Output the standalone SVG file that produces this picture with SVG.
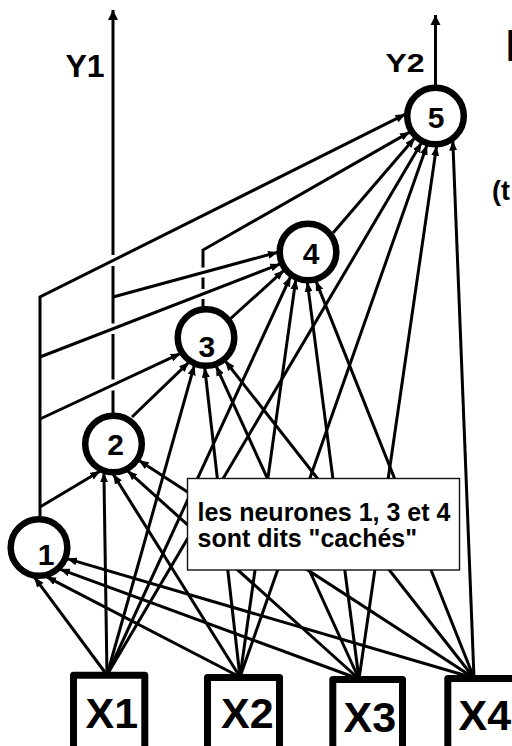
<svg xmlns="http://www.w3.org/2000/svg" width="512" height="746" viewBox="0 0 512 746">
  <style>
    .t { font-family: "Liberation Sans", Arial, sans-serif; font-weight: bold; fill: #000; }
    .e { fill: none; stroke: #000; stroke-width: 3; marker-end: url(#arr); }
    .s { fill: none; stroke: #000; stroke-width: 3; }
    .node { fill: #fff; stroke: #000; stroke-width: 6.5; }
    .box { fill: #fff; stroke: #000; stroke-width: 7; stroke-linejoin: round; }
  </style>
  <defs>
    <marker id="arr" viewBox="0 0 10 8" markerWidth="10" markerHeight="8" refX="10" refY="4" orient="auto" markerUnits="userSpaceOnUse">
      <path d="M0,0 L10,4 L0,8 Z" fill="#000"/>
    </marker>
    <marker id="out" viewBox="0 0 10 10" markerWidth="10" markerHeight="11" refX="10" refY="5" orient="auto" markerUnits="userSpaceOnUse">
      <path d="M0,0 L10,5 L0,10 Z" fill="#000"/>
    </marker>
  </defs>

  <rect width="512" height="746" fill="#fff"/>

  <!-- partly visible heading letters at the right edge -->
  <text class="t" x="505.4" y="61" font-size="44">R</text>
  <text class="t" x="492" y="200" font-size="27">(t</text>

  <!-- output labels -->
  <text class="t" x="65.5" y="77" font-size="32">Y1</text>
  <text class="t" font-size="32" transform="translate(385.5,72) scale(1,0.78)">Y2</text>

  <g id="edges">
    <!-- neuron 1 output: trunk and branches -->
    <path class="e" d="M40,516 V297 L405.5,114.2"/>
    <path class="e" d="M40,357 L280.4,263.9"/>
    <path class="e" d="M40,419 L180.6,353.4"/>
    <path class="e" d="M40,507 L100.3,471"/>

    <!-- neuron 2 output (Y1), broken where lines pass over it -->
    <path class="s" d="M113,413 V390.5 M113,379.5 V334 M113,323.5 V266 M113,255"/>
    <path d="M113,255 V10" fill="none" stroke="#000" stroke-width="3" marker-end="url(#out)"/>
    <path class="e" d="M113,297 L278,252.2"/>
    <path class="e" d="M132,417 L189,362.2"/>

    <!-- neuron 3 output -->
    <path class="s" d="M203,308 V299 M203,289 V277.5"/>
    <path class="e" d="M203,267.5 V250 L410,131.9"/>
    <path class="e" d="M229,320 L284.1,270.2"/>

    <!-- neuron 4 output -->
    <path class="e" d="M333,233 L414.9,137.8"/>

    <!-- neuron 5 output (Y2) -->
    <path d="M435.5,86 V15" fill="none" stroke="#000" stroke-width="3" marker-end="url(#out)"/>

    <!-- inputs X1 -->
    <path class="e" d="M107,675 L34.3,577.2"/>
    <path class="e" d="M107,675 L103.9,472.4"/>
    <path class="e" d="M107,675 L194.4,365.2"/>
    <path class="e" d="M107,675 L290.6,276.5"/>
    <path class="e" d="M107,675 L421.6,142.6"/>
    <!-- inputs X2 -->
    <path class="e" d="M240,677 L46.2,576.6"/>
    <path class="e" d="M240,677 L113.1,474"/>
    <path class="e" d="M240,677 L204.7,367.5"/>
    <path class="e" d="M240,677 L295.8,279.4"/>
    <path class="e" d="M240,677 L427.1,144.8"/>
    <!-- inputs X3 -->
    <path class="e" d="M359,679 L59.8,569.1"/>
    <path class="e" d="M359,679 L127.3,470.6"/>
    <path class="e" d="M359,679 L216,365.8"/>
    <path class="e" d="M359,679 L307.3,281.9"/>
    <path class="e" d="M359,679 L436.6,145.9"/>
    <!-- inputs X4 -->
    <path class="e" d="M474,678 L66.9,558.6"/>
    <path class="e" d="M474,678 L138.7,460.3"/>
    <path class="e" d="M474,678 L225.1,360.7"/>
    <path class="e" d="M474,678 L315.9,280.9"/>
    <path class="e" d="M474,678 L452.8,140.5"/>
  </g>

  <!-- neurons -->
  <g id="n1"><circle class="node" cx="39" cy="547.5" r="28.3"/><text class="t" x="46" y="565" font-size="30" text-anchor="middle">1</text></g>
  <g id="n2"><circle class="node" cx="113.5" cy="444" r="28.3"/><text class="t" x="115.7" y="455" font-size="30" text-anchor="middle">2</text></g>
  <g id="n3"><circle class="node" cx="206" cy="337.5" r="28.3"/><text class="t" x="206.8" y="356.5" font-size="30" text-anchor="middle">3</text></g>
  <g id="n4"><circle class="node" cx="308" cy="252" r="28.3"/><text class="t" x="311" y="264" font-size="30" text-anchor="middle">4</text></g>
  <g id="n5"><circle class="node" cx="435.5" cy="116" r="28.3"/><text class="t" x="436" y="128" font-size="30" text-anchor="middle">5</text></g>

  <!-- inputs -->
  <g id="x1"><rect class="box" x="73.5" y="675.2" width="71.3" height="100"/><text class="t" x="85.5" y="728" font-size="43">X1</text></g>
  <g id="x2"><rect class="box" x="207.5" y="677.5" width="72" height="100"/><text class="t" x="221" y="728" font-size="43">X2</text></g>
  <g id="x3"><rect class="box" x="332.8" y="679.5" width="69.7" height="100"/><text class="t" x="343.5" y="732" font-size="43">X3</text></g>
  <g id="x4"><rect class="box" x="447.8" y="678.5" width="72" height="100"/><text class="t" x="458.5" y="730" font-size="43">X4</text></g>

  <!-- note -->
  <g id="note">
    <rect x="187.5" y="478.5" width="272" height="91.5" fill="#fff" stroke="#111" stroke-width="1.4"/>
    <text class="t" x="197.5" y="520.5" font-size="25">les neurones 1, 3 et 4</text>
    <text class="t" x="197.5" y="546.5" font-size="25">sont dits "cachés"</text>
  </g>
</svg>
